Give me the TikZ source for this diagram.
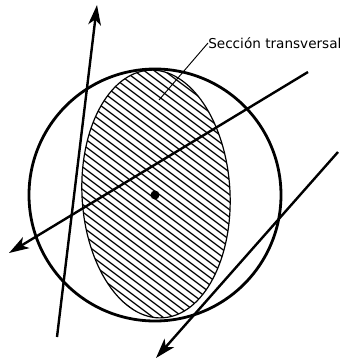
\documentclass[tikz,border=0pt]{standalone}
\usepackage{fontspec}
\newfontfamily\labelfont{DejaVu Sans}
\usetikzlibrary{arrows.meta}
\begin{document}
\begin{tikzpicture}[x=0.75pt,y=-0.75pt,
  sphere/.style={line width=2.1pt},
  axisarrow/.style={line width=1.8pt,-{Stealth[length=15pt,width=9.5pt,inset=4pt]}},
  sect/.style={line width=0.9pt},
  hatchline/.style={line width=0.95pt},
  leader/.style={line width=0.7pt},
  lbl/.style={font=\labelfont\fontsize{10.2pt}{12pt}\selectfont,inner sep=0pt}]
\useasboundingbox (0,0) rectangle (343,362);
\coordinate (c) at (155,195);
\coordinate (e) at (156,194);
% hatched cross-section
\begin{scope}
  \clip[rotate around={3:(e)}] (e) ellipse [x radius=74, y radius=124];
  \foreach \b in {-105,-97.5,...,265}
    \draw[hatchline] (60,{45+\b}) -- (250,{187.5+\b});
\end{scope}
\draw[sect,rotate around={3:(e)}] (e) ellipse [x radius=74, y radius=124];
% sphere
\draw[sphere] (c) circle [radius=126];
\fill (c) circle [radius=4.5];
% axes
\coordinate (a1s) at (57,337);
\coordinate (a1e) at (97,5);
\coordinate (a2s) at (308,72);
\coordinate (a2e) at (9,253);
\coordinate (a3s) at (338,152);
\coordinate (a3e) at (156,358);
\draw[axisarrow] (a1s) -- (a1e);
\draw[axisarrow] (a2s) -- (a2e);
\draw[axisarrow] (a3s) -- (a3e);
% label
\node[lbl,anchor=west] (lab) at (208,43) {Sección transversal};
\coordinate (lp) at (159,100);
\draw[leader] (lab.west) -- (lp);
\end{tikzpicture}
\end{document}
